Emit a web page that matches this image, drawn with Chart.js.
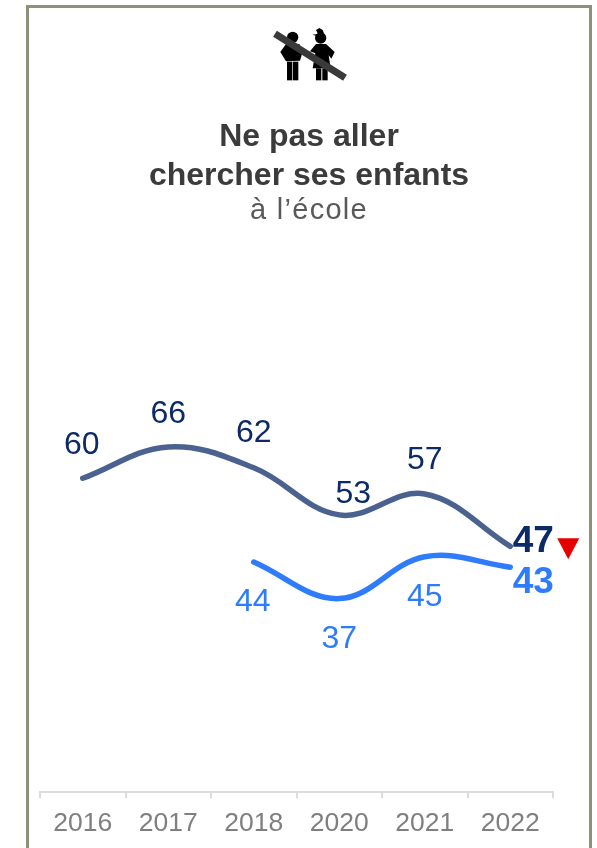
<!DOCTYPE html>
<html>
<head>
<meta charset="utf-8">
<script src="https://cdn.jsdelivr.net/npm/chart.js@4"></script>
<style>
  html, body { margin: 0; padding: 0; background: #fff; overflow: hidden; }
  body { width: 597px; height: 848px; position: relative; font-family: "Liberation Sans", Arial, sans-serif; }
  #frame { position: absolute; left: 26px; top: 5px; width: 560px; height: 860px; border: 3px solid #8f9079; }
  #chartBox { position: absolute; left: 0; top: 0; width: 597px; height: 848px; }
  #icon { position: absolute; left: 250px; top: 10px; }
  .title { position: absolute; left: 29px; width: 560px; text-align: center; white-space: nowrap; }
  .bold { font-weight: bold; font-size: 32px; color: #3b3b3b; line-height: 38px; }
  .sub { font-size: 29px; letter-spacing: 1.3px; color: #595959; line-height: 34px; }
</style>
</head>
<body>
<div id="frame"></div>
<div id="chartBox"><canvas id="graphicFirst" width="597" height="848"></canvas></div>

<svg id="icon" width="120" height="90" viewBox="0 0 360 270">
  <!-- fille de gauche -->
  <circle cx="128" cy="82" r="17" fill="#000"/>
  <path d="M108 102 L148 102 L158 125 L150 152 L108 154 L91 126 Z" fill="#000"/>
  <rect x="111" y="155" width="16" height="56" fill="#000"/>
  <rect x="129" y="155" width="16" height="56" fill="#000"/>
  <!-- fille de droite -->
  <circle cx="212" cy="84" r="17" fill="#000"/>
  <path d="M187 74 L204 72 L198 60 L208 54 L218 60 L222 70 L200 78 Z" fill="#000"/>
  <path d="M198 102 L228 102 L254 126 L244 146 L236 136 L242 175 L188 175 L196 130 L180 124 Z" fill="#000"/>
  <rect x="198" y="175" width="16" height="36" fill="#000"/>
  <rect x="217" y="175" width="16" height="36" fill="#000"/>
  <!-- barre -->
  <line x1="75" y1="71" x2="285" y2="203" stroke="#3a3a3a" stroke-width="21"/>
</svg>

<div class="title bold" style="top:116px">Ne pas aller</div>
<div class="title bold" style="top:155px">chercher ses enfants</div>
<div class="title sub" style="top:192px">à l’école</div>

<script>
// Ne pas aller chercher ses enfants a l'ecole
const years = ['2016', '2017', '2018', '2020', '2021', '2022'];
const valuesFirst = [60, 66, 62, 53, 57, 47];
const valuesSecond = [null, null, 44, 37, 45, 43];

const colorFirstLine = '#4b6290';
const colorFirstText = '#0c2a66';
const colorSecond = '#2f7cfb';

//-----LABELS: offset of each label from its point
const offsetsFirst = [[-1, -33], [0, -33], [0, -35], [14, -21], [0, -34], [23, -4]];
const offsetsSecond = [null, null, [-1, 40], [0, 41], [0, 40], [23, 16]];

const labelsPlugin = {
  id: 'labelsPlugin',
  afterDatasetsDraw(chart) {
    const ctx = chart.ctx;
    ctx.save();
    ctx.textAlign = 'center';
    ctx.textBaseline = 'middle';
    drawLabels(ctx, chart.getDatasetMeta(0).data, valuesFirst, offsetsFirst, colorFirstText);
    drawLabels(ctx, chart.getDatasetMeta(1).data, valuesSecond, offsetsSecond, colorSecond);

    // red triangle next to the last value
    const last = chart.getDatasetMeta(0).data[5];
    ctx.fillStyle = '#e60000';
    ctx.beginPath();
    ctx.moveTo(last.x + 47, last.y - 8);
    ctx.lineTo(last.x + 69, last.y - 8);
    ctx.lineTo(last.x + 58, last.y + 13);
    ctx.closePath();
    ctx.fill();
    ctx.restore();
  }
};

function drawLabels(ctx, points, values, offsets, color) {
  ctx.fillStyle = color;
  values.forEach(function (v, i) {
    if (v === null) return;
    const isLast = i === values.length - 1;
    ctx.font = (isLast ? 'bold 37px' : '32px') + ' "Liberation Sans", Arial, sans-serif';
    ctx.fillText(v, points[i].x + offsets[i][0], points[i].y + offsets[i][1]);
  });
}

new Chart(document.getElementById('graphicFirst').getContext('2d'), {
  type: 'line',
  data: {
    labels: years,
    datasets: [
      { data: valuesFirst, borderColor: colorFirstLine, borderWidth: 5.5, tension: 0.38, pointRadius: 0, borderCapStyle: 'round', borderJoinStyle: 'round' },
      { data: valuesSecond, borderColor: colorSecond, borderWidth: 5.5, tension: 0.38, pointRadius: 0, borderCapStyle: 'round', borderJoinStyle: 'round' }
    ]
  },
  plugins: [labelsPlugin],
  options: {
    responsive: false,
    animation: false,
    layout: { padding: { left: 40, right: 44, top: 269, bottom: -2 } },
    plugins: { legend: { display: false }, tooltip: { enabled: false } },
    scales: {
      x: {
        offset: true,
        grid: { offset: true, drawOnChartArea: false, drawTicks: true, tickLength: 6, color: '#dcdcdc', lineWidth: 2 },
        border: { color: '#dcdcdc', width: 2 },
        ticks: { color: '#7f7f7f', font: { family: '"Liberation Sans", Arial, sans-serif', size: 26.5 }, padding: 10, maxRotation: 0 }
      },
      y: { display: false, min: 0, max: 100 }
    }
  }
});
</script>
</body>
</html>
